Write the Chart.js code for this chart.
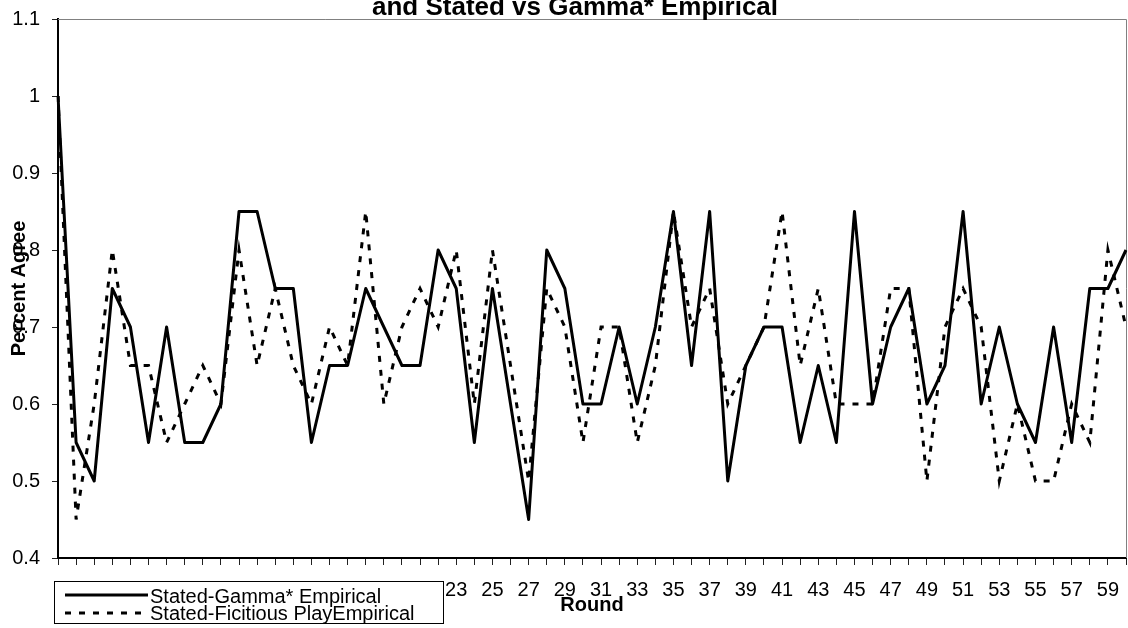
<!DOCTYPE html>
<html>
<head>
<meta charset="utf-8">
<title>Percent Agree by Round</title>
<script src="https://cdn.jsdelivr.net/npm/chart.js@4.4.1/dist/chart.umd.min.js"></script>
<style>
    html, body { margin: 0; padding: 0; background: #fff; }
    canvas { display: block; }
</style>
</head>
<body>
<canvas id="agreeChart" width="1128" height="628"></canvas>
<script>
// Rounds on the x axis
const rounds = ['1', '2', '3', '4', '5', '6', '7', '8', '9', '10',
    '11', '12', '13', '14', '15', '16', '17', '18', '19', '20',
    '21', '22', '23', '24', '25', '26', '27', '28', '29', '30',
    '31', '32', '33', '34', '35', '36', '37', '38', '39', '40',
    '41', '42', '43', '44', '45', '46', '47', '48', '49', '50',
    '51', '52', '53', '54', '55', '56', '57', '58', '59', '60'];

// Stated-Gamma* Empirical (solid)
const gammaEmpirical = [1.0, 0.55, 0.5, 0.75, 0.7, 0.55, 0.7, 0.55, 0.55, 0.6,
    0.85, 0.85, 0.75, 0.75, 0.55, 0.65, 0.65, 0.75, 0.7, 0.65,
    0.65, 0.8, 0.75, 0.55, 0.75, 0.6, 0.45, 0.8, 0.75, 0.6,
    0.6, 0.7, 0.6, 0.7, 0.85, 0.65, 0.85, 0.5, 0.65, 0.7,
    0.7, 0.55, 0.65, 0.55, 0.85, 0.6, 0.7, 0.75, 0.6, 0.65,
    0.85, 0.6, 0.7, 0.6, 0.55, 0.7, 0.55, 0.75, 0.75, 0.8];

// Stated-Ficitious PlayEmpirical (dashed)
const fictitiousEmpirical = [1.0, 0.45, 0.6, 0.8, 0.65, 0.65, 0.55, 0.6, 0.65, 0.6,
    0.8, 0.65, 0.75, 0.65, 0.6, 0.7, 0.65, 0.85, 0.6, 0.7,
    0.75, 0.7, 0.8, 0.6, 0.8, 0.65, 0.5, 0.75, 0.7, 0.55,
    0.7, 0.7, 0.55, 0.65, 0.85, 0.7, 0.75, 0.6, 0.65, 0.7,
    0.85, 0.65, 0.75, 0.6, 0.6, 0.6, 0.75, 0.75, 0.5, 0.7,
    0.75, 0.7, 0.5, 0.6, 0.5, 0.5, 0.6, 0.55, 0.8, 0.7];

const yTicks = [0.4, 0.5, 0.6, 0.7, 0.8, 0.9, 1.0, 1.1];
const seriesNames = ['Stated-Gamma* Empirical', 'Stated-Ficitious PlayEmpirical'];
const chartTitle = 'and Stated vs Gamma* Empirical';
const xTitle = 'Round';
const yTitle = 'Percent Agree';

const FONT = "'Liberation Sans', Arial, sans-serif";
const DASH = [6, 8];

// titles, plot frame and the boxed legend are drawn by hand like the Excel original
const overlayPlugin = {
    id: 'overlay',
    beforeDatasetsDraw(chart) {
        const { ctx, chartArea: a } = chart;
        ctx.save();
        ctx.strokeStyle = '#808080';
        ctx.lineWidth = 1;
        ctx.beginPath();
        ctx.moveTo(a.left, a.top + 0.5);
        ctx.lineTo(a.right + 0.5, a.top + 0.5);
        ctx.lineTo(a.right + 0.5, a.bottom);
        ctx.stroke();
        ctx.restore();
    },
    afterDraw(chart) {
        const { ctx, chartArea: a } = chart;
        ctx.save();
        ctx.fillStyle = '#000';

        // chart title (first line is off the top of the picture)
        ctx.font = `bold 26px ${FONT}`;
        ctx.textAlign = 'center';
        ctx.textBaseline = 'alphabetic';
        ctx.fillText(chartTitle, 575, 15);

        // x axis title
        ctx.font = `bold 20px ${FONT}`;
        ctx.fillText(xTitle, (a.left + a.right) / 2, 611);

        // y axis title
        ctx.save();
        ctx.translate(25, (a.top + a.bottom) / 2);
        ctx.rotate(-Math.PI / 2);
        ctx.fillText(yTitle, 0, 0);
        ctx.restore();

        // legend box
        const lx = 54, ly = 581, lw = 389, lh = 42;
        ctx.fillStyle = '#fff';
        ctx.fillRect(lx, ly, lw, lh);
        ctx.strokeStyle = '#000';
        ctx.lineWidth = 1;
        ctx.strokeRect(lx + 0.5, ly + 0.5, lw, lh);

        ctx.lineWidth = 3;
        ctx.beginPath();
        ctx.moveTo(65, 595);
        ctx.lineTo(148, 595);
        ctx.stroke();

        ctx.setLineDash(DASH);
        ctx.beginPath();
        ctx.moveTo(65, 613);
        ctx.lineTo(148, 613);
        ctx.stroke();
        ctx.setLineDash([]);

        ctx.fillStyle = '#000';
        ctx.font = `20px ${FONT}`;
        ctx.textAlign = 'left';
        ctx.fillText(seriesNames[0], 150, 603);
        ctx.fillText(seriesNames[1], 150, 620);
        ctx.restore();
    }
};

const agreeChart = new Chart(document.getElementById('agreeChart'), {
    type: 'line',
    data: {
        labels: rounds,
        datasets: [{
            label: seriesNames[0],
            data: gammaEmpirical,
            borderColor: '#000',
            borderWidth: 3,
            borderJoinStyle: 'round',
            pointRadius: 0,
            tension: 0,
            fill: false,
            order: 1
        }, {
            label: seriesNames[1],
            data: fictitiousEmpirical,
            borderColor: '#000',
            borderWidth: 3,
            borderDash: DASH,
            borderCapStyle: 'butt',
            pointRadius: 0,
            tension: 0,
            fill: false,
            order: 0
        }]
    },
    options: {
        responsive: false,
        animation: false,
        layout: { padding: { top: 19, right: 2, left: 0, bottom: 0 } },
        plugins: {
            legend: { display: false },
            tooltip: { enabled: false },
            title: { display: false }
        },
        scales: {
            x: {
                type: 'category',
                offset: false,
                afterFit: (scale) => {
                    scale.height = 70;
                    scale.paddingLeft = 0;
                    scale.paddingRight = 0;
                },
                grid: {
                    drawOnChartArea: false,
                    drawTicks: true,
                    tickLength: 7,
                    color: '#222',
                    lineWidth: 1
                },
                border: { display: true, color: '#000', width: 2 },
                ticks: {
                    autoSkip: false,
                    maxRotation: 0,
                    minRotation: 0,
                    padding: 13,
                    color: '#000',
                    font: { family: FONT, size: 20 },
                    callback: (val, i) => (i % 2 === 0 ? rounds[i] : '')
                }
            },
            y: {
                min: 0.4,
                max: 1.1,
                afterBuildTicks: (scale) => {
                    scale.ticks = yTicks.map(v => ({ value: v }));
                },
                afterFit: (scale) => {
                    scale.width = 58;
                    scale.paddingTop = 0;
                    scale.paddingBottom = 0;
                },
                grid: {
                    drawOnChartArea: false,
                    drawTicks: true,
                    tickLength: 6,
                    color: '#222',
                    lineWidth: 1
                },
                border: { display: true, color: '#000', width: 2 },
                ticks: {
                    padding: 12,
                    color: '#000',
                    font: { family: FONT, size: 20 },
                    callback: (val) => String(Math.round(val * 10) / 10)
                }
            }
        }
    },
    plugins: [overlayPlugin]
});
</script>
</body>
</html>
